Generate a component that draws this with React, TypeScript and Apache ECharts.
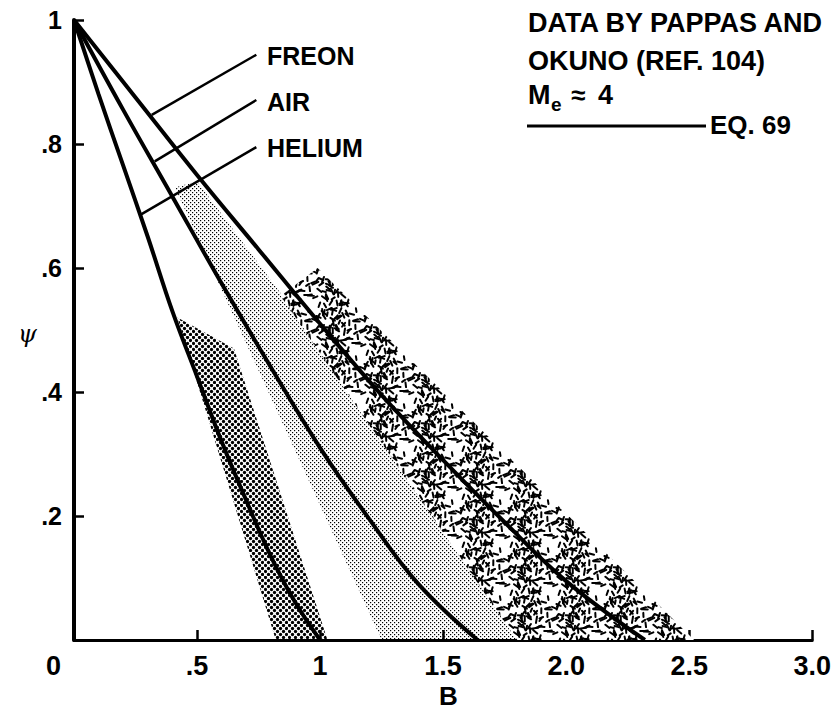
import React, { useEffect, useRef } from 'react';
import * as echarts from 'echarts';

// ---- data ----
const X_TICK_LABELS = ['', '.5', '1', '1.5', '2.0', '2.5', '3.0'];
const Y_TICK_LABELS = ['', '.2', '.4', '.6', '.8', '1'];

const HELIUM_B = [0, 0.1, 0.2, 0.3, 0.4, 0.5, 0.6, 0.7, 0.8, 0.9, 1.0];
const HELIUM_PSI = [1, 0.88, 0.765, 0.65, 0.53, 0.425, 0.32, 0.225, 0.135, 0.06, 0];

const AIR_B = [0, 0.2, 0.4, 0.6, 0.8, 1.0, 1.2, 1.4, 1.64];
const AIR_PSI = [1, 0.855, 0.715, 0.575, 0.44, 0.31, 0.195, 0.09, 0];

const FREON_B = [0, 0.25, 0.5, 0.75, 1.0, 1.25, 1.5, 1.75, 2.0, 2.32];
const FREON_PSI = [1, 0.875, 0.75, 0.63, 0.51, 0.395, 0.29, 0.19, 0.095, 0];

// experimental data bands (polygon vertices, [B, psi])
const HELIUM_BAND = [[0.42, 0.52], [0.65, 0.47], [1.03, 0], [0.82, 0]];
const AIR_BAND = [[0.41, 0.73], [0.5, 0.74], [1.89, 0], [1.25, 0]];
const FREON_BAND = [[0.84, 0.555], [0.99, 0.6], [2.52, 0], [1.8, 0]];

// leader lines: [start on curve, end at label]
const FREON_LEADER = [[0.316, 0.847], [0.741, 0.944]];
const AIR_LEADER = [[0.328, 0.772], [0.741, 0.871]];
const HELIUM_LEADER = [[0.271, 0.686], [0.741, 0.795]];

const zip = (a: number[], b: number[]) => a.map((v, i) => [v, b[i]]);

const FONT = '"Liberation Sans", Arial, Helvetica, sans-serif';

function heliumTile() {
  const cell = 6, n = 4, size = cell * n;
  const c = document.createElement('canvas');
  c.width = size; c.height = size;
  const g = c.getContext('2d')!;
  g.fillStyle = '#000';
  for (let i = 0; i < n; i++) for (let j = 0; j < n; j++) {
    for (const [x, y] of [[1.5, 1.5], [4.5, 4.5]]) {
      g.beginPath(); g.arc(i * cell + x, j * cell + y, 1.65, 0, Math.PI * 2); g.fill();
    }
  }
  return c;
}

function airTile() {
  const cell = 4, n = 6, size = cell * n;
  const c = document.createElement('canvas');
  c.width = size; c.height = size;
  const g = c.getContext('2d')!;
  g.fillStyle = '#000';
  for (let i = 0; i < n; i++) for (let j = 0; j < n; j++) {
    g.fillRect(i * cell, j * cell, 1.2, 1.2);
    g.fillRect(i * cell + 2, j * cell + 2, 1.2, 1.2);
  }
  return c;
}

function freonTile() {
  const size = 48;
  const c = document.createElement('canvas');
  c.width = size; c.height = size;
  const g = c.getContext('2d')!;
  g.fillStyle = '#fff';
  g.fillRect(0, 0, size, size);
  g.strokeStyle = '#000';
  g.lineWidth = 2;
  g.lineCap = 'round';
  let s = 987654;
  const rnd = () => { s = (s * 16807) % 2147483647; return s / 2147483647; };
  for (let i = 0; i < 85; i++) {
    const cx = rnd() * size, cy = rnd() * size;
    const ang = rnd() * Math.PI;
    const len = 3.5 + rnd() * 3;
    const dx = Math.cos(ang) * len / 2, dy = Math.sin(ang) * len / 2;
    for (const ox of [-size, 0, size]) for (const oy of [-size, 0, size]) {
      g.beginPath();
      g.moveTo(cx - dx + ox, cy - dy + oy);
      g.lineTo(cx + dx + ox, cy + dy + oy);
      g.stroke();
    }
  }
  return c;
}

function bandSeries(name: string, verts: number[][], pattern: any) {
  return {
    type: 'custom',
    name,
    data: verts,
    encode: { x: 0, y: 1 },
    silent: true,
    renderItem: (params: any, api: any) => {
      if (params.dataIndex !== 0) return null;
      const pts = verts.map((v) => api.coord(v));
      return { type: 'polygon', shape: { points: pts }, style: { fill: pattern } };
    },
  };
}

function curveSeries(name: string, pts: number[][]) {
  return {
    type: 'line', name, data: pts, smooth: 0.4, showSymbol: false, silent: true,
    lineStyle: { color: '#000', width: 4 }, z: 5,
  };
}

function leaderSeries(name: string, pts: number[][]) {
  return {
    type: 'line', name, data: pts, showSymbol: false, silent: true,
    lineStyle: { color: '#000', width: 2.5 }, z: 6,
  };
}

export default function App() {
  const ref = useRef<HTMLDivElement>(null);
  useEffect(() => {
    if (!ref.current) return;
    const chart = echarts.init(ref.current, undefined, { renderer: 'svg' });
    const txt = (text: string, x: number, y: number, size: number, extra: any = {}) => ({
      type: 'text', x, y, silent: true,
      style: { text, fill: '#000', font: `bold ${size}px ${FONT}`, textAlign: 'left', textVerticalAlign: 'middle', ...extra },
    });
    chart.setOption({
      animation: false,
      backgroundColor: '#fff',
      grid: { left: 74, right: 19, top: 20, bottom: 74, containLabel: false },
      xAxis: {
        type: 'value', min: 0, max: 3, interval: 0.5,
        axisLine: { show: true, lineStyle: { color: '#000', width: 3 } },
        axisTick: { show: true, inside: true, length: 10, lineStyle: { color: '#000', width: 2.5 } },
        axisLabel: {
          color: '#000', fontSize: 27, fontWeight: 'bold', fontFamily: FONT, margin: 12,
          formatter: (_v: number, i: number) => X_TICK_LABELS[i] ?? '',
        },
        splitLine: { show: false },
      },
      yAxis: {
        type: 'value', min: 0, max: 1, interval: 0.2,
        axisLine: { show: true, lineStyle: { color: '#000', width: 4 } },
        axisTick: { show: true, inside: true, length: 10, lineStyle: { color: '#000', width: 2.5 } },
        axisLabel: {
          color: '#000', fontSize: 25, fontWeight: 'bold', fontFamily: FONT, margin: 12,
          formatter: (_v: number, i: number) => Y_TICK_LABELS[i] ?? '',
        },
        splitLine: { show: false },
      },
      series: [
        bandSeries('air data', AIR_BAND, { image: airTile(), repeat: 'repeat' }),
        bandSeries('freon data', FREON_BAND, { image: freonTile(), repeat: 'repeat' }),
        bandSeries('helium data', HELIUM_BAND, { image: heliumTile(), repeat: 'repeat' }),
        curveSeries('Freon', zip(FREON_B, FREON_PSI)),
        curveSeries('Air', zip(AIR_B, AIR_PSI)),
        curveSeries('Helium', zip(HELIUM_B, HELIUM_PSI)),
        leaderSeries('freon leader', FREON_LEADER),
        leaderSeries('air leader', AIR_LEADER),
        leaderSeries('helium leader', HELIUM_LEADER),
      ],
      graphic: [
        txt('FREON', 267, 56, 25),
        txt('AIR', 267, 102, 25),
        txt('HELIUM', 267, 148, 25),
        txt('DATA BY PAPPAS AND', 528, 23, 27),
        txt('OKUNO (REF. 104)', 528, 61, 27),
        txt('M', 528, 95, 27),
        txt('e', 551, 104, 19),
        txt('≈', 571, 95, 26),
        txt('4', 598, 95, 27),
        { type: 'line', silent: true, shape: { x1: 527, y1: 126, x2: 706, y2: 126 }, style: { stroke: '#000', lineWidth: 3 } },
        txt('EQ. 69', 710, 125, 26),
        txt('0', 46, 666, 27),
        txt('B', 439, 696, 26),
        { type: 'text', x: 18, y: 334, silent: true, style: { text: 'ψ', fill: '#000', font: `italic 24px "DejaVu Serif", serif`, textVerticalAlign: 'middle' } },
      ],
    });
    return () => chart.dispose();
  }, []);
  return <div ref={ref} style={{ position: 'absolute', left: 0, top: 0, width: 834, height: 714 }} />;
}
